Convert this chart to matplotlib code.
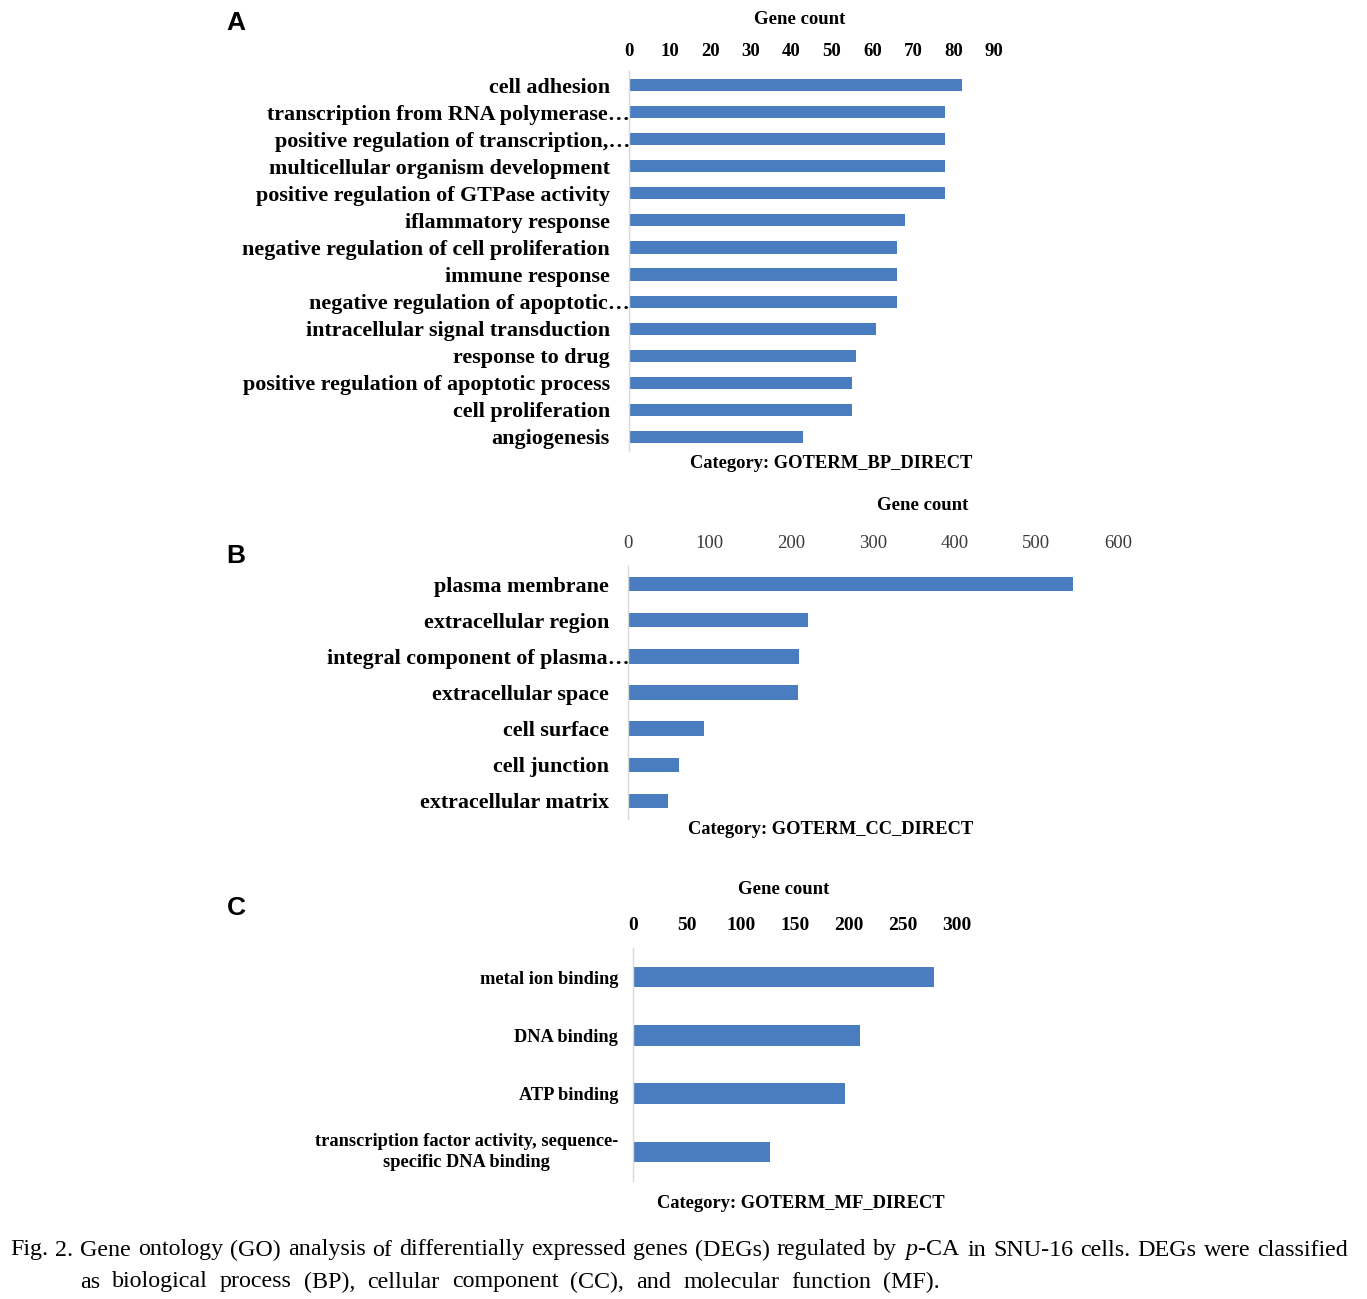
import matplotlib
matplotlib.use('Agg')
import matplotlib.pyplot as plt
import matplotlib.transforms as mtransforms

W, H = 1367, 1299
plt.rcParams['mathtext.fontset'] = 'custom'
plt.rcParams['mathtext.rm'] = 'Liberation Serif'
plt.rcParams['mathtext.it'] = 'Liberation Serif:italic'

# ---------------- data ----------------
bp_terms = ['cell adhesion', 'transcription from RNA polymerase\u2026',
            'positive regulation of transcription,\u2026', 'multicellular organism development',
            'positive regulation of GTPase activity', 'iflammatory response',
            'negative regulation of cell proliferation', 'immune response',
            'negative regulation of apoptotic\u2026', 'intracellular signal transduction',
            'response to drug', 'positive regulation of apoptotic process',
            'cell proliferation', 'angiogenesis']
bp_counts = [82, 78, 78, 78, 78, 68, 66, 66, 66, 61, 56, 55, 55, 43]
bp_ticks = [0, 10, 20, 30, 40, 50, 60, 70, 80, 90]

cc_terms = ['plasma membrane', 'extracellular region', 'integral component of plasma\u2026',
            'extracellular space', 'cell surface', 'cell junction', 'extracellular matrix']
cc_counts = [545, 221, 209, 208, 93, 62, 49]
cc_ticks = [0, 100, 200, 300, 400, 500, 600]

mf_terms = ['metal ion binding', 'DNA binding', 'ATP binding',
            'transcription factor activity, sequence-\nspecific DNA binding']
mf_counts = [279, 210, 196, 127]
mf_ticks = [0, 50, 100, 150, 200, 250, 300]

caption1 = 'Fig. 2. Gene ontology (GO) analysis of differentially expressed genes (DEGs) regulated by $\\it{p}$-CA in SNU-16 cells. DEGs were classified'
caption2 = 'as biological process (BP), cellular component (CC), and molecular function (MF).'

# ---------------- figure ----------------
fig = plt.figure(figsize=(W / 100, H / 100), dpi=100)
BAR = '#4a7dc0'
SERIF = 'Liberation Serif'


def px_axes(l, r, t, b):
    return fig.add_axes([l / W, 1 - b / H, (r - l) / W, (b - t) / H])


def panel(ax, terms, counts, ticks, height, ylsize, xlsize, xbold, ypad, xpad, xcolor,
          lsp=1.2, ell_shift=0):
    ypos = list(range(len(terms)))
    ax.barh(ypos, counts, height=height, color=BAR, zorder=2)
    ax.set_ylim(len(terms) - 0.5, -0.5)
    ax.set_xlim(ticks[0], ticks[-1])
    ax.set_yticks(ypos)
    ax.set_yticklabels([])
    base = ax.get_yaxis_transform()
    for yp, term in zip(ypos, terms):
        shift = -ypad + (ell_shift if term.endswith('\u2026') else 0)
        tr = mtransforms.offset_copy(base, fig=fig, x=shift, y=0, units='dots')
        va = 'center' if '\n' in term else 'center_baseline'
        ax.text(0, yp, term, transform=tr, ha='right', va=va, fontfamily=SERIF,
                fontweight='bold', fontsize=ylsize, multialignment='center',
                linespacing=lsp, clip_on=False)
    ax.xaxis.tick_top()
    ax.set_xticks(ticks)
    ax.set_xticklabels([str(t) for t in ticks], fontfamily=SERIF,
                       fontweight='bold' if xbold else 'normal', fontsize=xlsize, color=xcolor)
    ax.tick_params(axis='both', length=0)
    ax.tick_params(axis='x', pad=xpad)
    for s in ['top', 'right', 'bottom']:
        ax.spines[s].set_visible(False)
    ax.spines['left'].set_color('#d9d9d9')
    ax.spines['left'].set_linewidth(1.0)
    ax.spines['left'].set_zorder(3)


axA = px_axes(629, 994, 71.5, 450.5)
panel(axA, bp_terms, bp_counts, bp_ticks, 0.45, 15.8, 13.5, True, 19, 8, 'black', ell_shift=20)
axB = px_axes(628, 1118, 566, 819)
panel(axB, cc_terms, cc_counts, cc_ticks, 0.4, 15.8, 13.5, False, 19, 10, '#3a3a3a', ell_shift=21)
axC = px_axes(633, 957, 948, 1181)
panel(axC, mf_terms, mf_counts, mf_ticks, 0.35, 13.2, 14, True, 15, 10, 'black', lsp=1.3)


def ftext(x, y, s, **kw):
    fig.text(x / W, 1 - y / H, s, **kw)


tkw = dict(fontfamily=SERIF, fontweight='bold', ha='center', va='center')
ftext(800, 20, 'Gene count', fontsize=13.5, **tkw)
ftext(831, 463, 'Category: GOTERM_BP_DIRECT', fontsize=13.3, **tkw)
ftext(923, 506, 'Gene count', fontsize=13.5, **tkw)
ftext(831, 829, 'Category: GOTERM_CC_DIRECT', fontsize=13.3, **tkw)
ftext(784, 889, 'Gene count', fontsize=13.5, **tkw)
ftext(801, 1203, 'Category: GOTERM_MF_DIRECT', fontsize=13.3, **tkw)

lkw = dict(fontfamily='Liberation Sans', fontweight='bold', fontsize=19, ha='center', va='center')
ftext(236, 23, 'A', **lkw)
ftext(236, 556, 'B', **lkw)
ftext(236, 908, 'C', **lkw)

# justified caption lines
fig.canvas.draw()
renderer = fig.canvas.get_renderer()


def justify(line, x0, x1, y, size):
    words = line.split(' ')
    arts = []
    widths = []
    for w in words:
        t = fig.text(0, 1 - y / H, w, fontfamily=SERIF, fontsize=size, va='center', ha='left')
        bb = t.get_window_extent(renderer)
        arts.append(t)
        widths.append(bb.width)
    gap = (x1 - x0 - sum(widths)) / max(len(words) - 1, 1)
    x = x0
    for t, wd in zip(arts, widths):
        t.set_x(x / W)
        x += wd + gap


justify(caption1, 10, 1348, 1250, 17.3)
justify(caption2, 80, 940, 1282, 17.3)

fig.savefig('out.png', dpi=100)
